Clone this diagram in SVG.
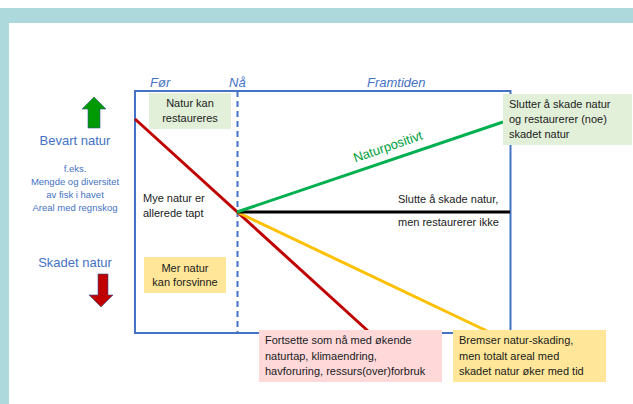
<svg xmlns="http://www.w3.org/2000/svg" width="633" height="404" viewBox="0 0 633 404">
<style>
text{font-family:"Liberation Sans",Arial,sans-serif;}
.hdr{font-size:13px;font-style:italic;fill:#4472C4;}
.blue{fill:#4472C4;text-anchor:middle;}
.t{font-size:11px;fill:#1a1a1a;}
.c{text-anchor:middle;}
.ln{stroke-width:3;fill:none;}
</style>
<rect x="0" y="0" width="633" height="404" fill="#ffffff"/>
<rect x="0" y="8" width="633" height="15" fill="#ADD8DC"/>
<rect x="0" y="8" width="9" height="396" fill="#ADD8DC"/>

<g id="frame">
<rect x="135" y="91" width="375.5" height="242" fill="none" stroke="#4472C4" stroke-width="2"/>
<line x1="237.5" y1="91" x2="237.5" y2="333" stroke="#4472C4" stroke-width="2" stroke-dasharray="6,4"/>
<text class="hdr" x="150" y="87">Før</text>
<text class="hdr" x="229" y="87">Nå</text>
<text class="hdr" x="367" y="87">Framtiden</text>
</g>

<g id="axis-labels">
<polygon points="94,97 106,109 100,109 100,128 88,128 88,109 82,109" fill="#009A00" stroke="#2F5597" stroke-width="0.6"/>
<text class="blue" x="75" y="145" font-size="13">Bevart natur</text>
<text class="blue" x="75" y="172" font-size="9.5">f.eks.</text>
<text class="blue" x="75" y="185" font-size="9.5">Mengde og diversitet</text>
<text class="blue" x="75" y="198" font-size="9.5">av fisk i havet</text>
<text class="blue" x="75" y="211" font-size="9.5">Areal med regnskog</text>
<text class="blue" x="75" y="267" font-size="13">Skadet natur</text>
<polygon points="98,274 108,274 108,295 113,295 101,307 89,295 98,295" fill="#C00000" stroke="#2F5597" stroke-width="0.6"/>
</g>

<g id="connectors">
<line class="ln" x1="135" y1="119" x2="368" y2="331" stroke="#C00000"/>
<line class="ln" x1="237" y1="212" x2="487" y2="331" stroke="#FFC000"/>
<line class="ln" x1="237" y1="212" x2="510" y2="212" stroke="#000000"/>
<line class="ln" x1="237" y1="212" x2="503" y2="122" stroke="#00B050"/>
</g>

<g id="naturpositivt">
<text x="388" y="151" font-size="13" fill="#00A03C" text-anchor="middle" transform="rotate(-19 388 147)">Naturpositivt</text>
</g>

<g id="node-restaureres">
<rect x="149" y="93" width="82" height="36" fill="#E2F0D9"/>
<text class="t c" x="190" y="107">Natur kan</text>
<text class="t c" x="190" y="122">restaureres</text>
</g>

<g id="node-tapt">
<text class="t" x="143" y="202">Mye natur er</text>
<text class="t" x="143" y="217">allerede tapt</text>
</g>

<g id="node-forsvinne">
<rect x="144" y="257" width="82" height="36" fill="#FFE699"/>
<text class="t c" x="185" y="272">Mer natur</text>
<text class="t c" x="185" y="286">kan forsvinne</text>
</g>

<g id="node-slutter">
<rect x="503" y="94" width="129" height="51" fill="#E2F0D9"/>
<text class="t" x="509" y="108">Slutter å skade natur</text>
<text class="t" x="509" y="123">og restaurerer (noe)</text>
<text class="t" x="509" y="138">skadet natur</text>
</g>

<g id="node-slutte">
<text class="t" x="398" y="203">Slutte å skade natur,</text>
<text class="t" x="398" y="226">men restaurerer ikke</text>
</g>

<g id="node-fortsette">
<rect x="259" y="330" width="183" height="52" fill="#FFD9DA"/>
<text class="t" x="265" y="344">Fortsette som nå med økende</text>
<text class="t" x="265" y="360">naturtap, klimaendring,</text>
<text class="t" x="265" y="375">havforuring, ressurs(over)forbruk</text>
</g>

<g id="node-bremser">
<rect x="453" y="330" width="153" height="52" fill="#FFE699"/>
<text class="t" x="459" y="344">Bremser natur-skading,</text>
<text class="t" x="459" y="360">men totalt areal med</text>
<text class="t" x="459" y="375">skadet natur øker med tid</text>
</g>
</svg>
